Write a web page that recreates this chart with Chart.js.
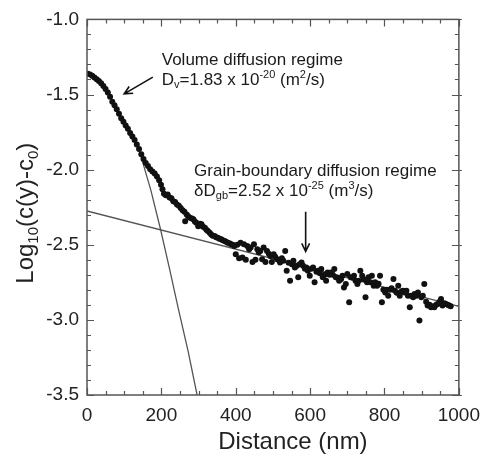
<!DOCTYPE html>
<html>
<head>
<meta charset="utf-8">
<script src="https://cdn.jsdelivr.net/npm/chart.js@4.4.0/dist/chart.umd.min.js"></script>
<style>
  html, body { margin: 0; padding: 0; background: #fff; }
</style>
</head>
<body>
<canvas id="chart-diffusion-profile" width="489" height="459"></canvas>
<script>
// measured profile, distance in nm
var distance = [
  2, 8, 14, 20, 26, 32, 38, 44, 50, 56, 62, 68, 74, 80, 86, 92, 98, 104, 110, 116,
  122, 128, 134, 140, 146, 152, 158, 164, 170, 176, 182, 188, 194, 199,
  203, 207, 212, 217, 222, 227, 232, 237, 242, 247, 252, 257, 262, 264, 268, 272,
  277, 282, 286, 290, 294, 299, 304, 308, 312, 317, 321, 325, 330, 334, 338, 343,
  347, 352, 356, 361, 365, 370, 374, 378, 383, 387, 392, 396, 400,
  404, 409, 413, 418, 422, 427, 431, 436, 440, 445, 449, 453, 458, 462, 466, 471,
  475, 480, 484, 489, 493, 497, 502, 506, 511, 515, 519, 524, 528, 533, 537, 542,
  546, 551, 555, 559, 564, 568, 572, 577, 581, 586, 590, 594, 599, 603, 608, 612,
  617, 621, 626, 630, 634, 639, 643, 647, 652, 656, 661, 665, 669, 674, 678, 683,
  687, 691, 696, 700, 705, 709, 714, 718, 722, 727, 731, 735, 740, 744, 749, 753,
  757, 762, 766, 771, 775, 780, 784, 788, 793, 797, 802, 806, 810, 815, 819, 824,
  828, 833, 837, 841, 846, 850, 854, 859, 863, 868, 872, 877, 881, 886, 890, 894,
  899, 903, 907, 912, 916, 921, 925, 930, 934, 939, 943, 948, 952, 956, 961, 965,
  970, 974, 978
];
var logConc = [
  -1.362, -1.367, -1.375, -1.386, -1.398, -1.410, -1.425, -1.443, -1.463, -1.487,
  -1.515, -1.548, -1.572, -1.598, -1.628, -1.658, -1.681, -1.706, -1.728, -1.756,
  -1.780, -1.802, -1.832, -1.862, -1.897, -1.930, -1.955, -1.975, -1.998, -2.012,
  -2.025, -2.045, -2.070, -2.100,
  -2.130, -2.160, -2.170, -2.165, -2.185, -2.190, -2.210, -2.215, -2.232, -2.240,
  -2.255, -2.270, -2.280, -2.343, -2.298, -2.310, -2.321, -2.325, -2.331, -2.345,
  -2.354, -2.376, -2.360, -2.364, -2.380, -2.387, -2.400, -2.409, -2.420, -2.431,
  -2.440, -2.442, -2.450, -2.453, -2.460, -2.464, -2.470, -2.475, -2.480, -2.486,
  -2.490, -2.497, -2.500, -2.508, -2.563,
  -2.500, -2.590, -2.486, -2.585, -2.497, -2.600, -2.508, -2.530, -2.519, -2.615,
  -2.497, -2.600, -2.530, -2.550, -2.541, -2.596, -2.519, -2.615, -2.541, -2.560,
  -2.574, -2.615, -2.563, -2.580, -2.596, -2.600, -2.618, -2.590, -2.607, -2.541,
  -2.673, -2.620, -2.739, -2.630, -2.607, -2.651, -2.640, -2.717, -2.630, -2.618,
  -2.640, -2.660, -2.651, -2.673, -2.706, -2.660, -2.651, -2.750, -2.680, -2.673,
  -2.690, -2.662, -2.717, -2.700, -2.739, -2.684, -2.700, -2.684, -2.700, -2.662,
  -2.717, -2.720, -2.739, -2.730, -2.706, -2.784, -2.761, -2.695, -2.883, -2.717,
  -2.720, -2.706, -2.740, -2.761, -2.740, -2.673, -2.706, -2.730, -2.850, -2.750,
  -2.717, -2.750, -2.706, -2.772, -2.750, -2.772, -2.760, -2.706, -2.883, -2.800,
  -2.817, -2.800, -2.839, -2.800, -2.790, -2.728, -2.806, -2.820, -2.772, -2.839,
  -2.810, -2.806, -2.817, -2.806, -2.840, -2.916, -2.839, -2.850, -2.828, -2.840,
  -2.817, -3.004, -2.850, -2.839, -2.761, -2.880, -2.905, -2.900, -2.916, -2.910,
  -2.916, -2.900, -2.894, -2.880, -2.861, -2.905, -2.890, -2.894, -2.900, -2.905,
  -2.910
];

// fitted lines
var volumeFitX = [138, 172, 198, 222, 246, 272, 296];
var volumeFitY = [-1.85, -2.14, -2.40, -2.66, -2.93, -3.21, -3.50];
var gbFitX = [0, 1000];
var gbFitY = [-2.275, -2.91];

var xTickValues = [0, 200, 400, 600, 800, 1000];
var yTickValues = [-3.5, -3.0, -2.5, -2.0, -1.5, -1.0];

function toPoints(xs, ys) {
  return xs.map(function (x, i) {
    return { x: x, y: ys[i] };
  });
}

var FONT = "'Liberation Sans', Arial, sans-serif";

// annotation anchors in data units
var notes = {
  volume: { x: 201, line1: -1.27, line2: -1.405, arrowFrom: [177, -1.384], arrowTo: [100, -1.496] },
  gb: { x: 288, line1: -2.012, line2: -2.144, arrowFrom: [588, -2.28], arrowTo: [588, -2.545] },
};

function drawRich(ctx, x, y, parts) {
  parts.forEach(function (p) {
    ctx.font = p[1] + "px " + FONT;
    ctx.fillText(p[0], x, y + (p[2] || 0));
    x += ctx.measureText(p[0]).width;
  });
  return x;
}

function richWidth(ctx, parts) {
  var w = 0;
  parts.forEach(function (p) {
    ctx.font = p[1] + "px " + FONT;
    w += ctx.measureText(p[0]).width;
  });
  return w;
}

function arrow(ctx, x1, y1, x2, y2) {
  var ang = Math.atan2(y2 - y1, x2 - x1);
  var head = 9;
  ctx.beginPath();
  ctx.moveTo(x1, y1);
  ctx.lineTo(x2, y2);
  ctx.moveTo(x2 - head * Math.cos(ang - 0.45), y2 - head * Math.sin(ang - 0.45));
  ctx.lineTo(x2, y2);
  ctx.lineTo(x2 - head * Math.cos(ang + 0.45), y2 - head * Math.sin(ang + 0.45));
  ctx.stroke();
}

var frameAndNotes = {
  id: "frameAndNotes",
  afterDraw: function (chart) {
    var ctx = chart.ctx;
    var a = chart.chartArea;
    var xs = chart.scales.x;
    var ys = chart.scales.y;
    ctx.save();

    // inward ticks on all four sides
    ctx.strokeStyle = "#555";
    ctx.lineWidth = 1.2;
    ctx.beginPath();
    for (var v = 0; v <= 1000; v += 50) {
      var px = Math.round(xs.getPixelForValue(v)) + 0.5;
      var len = v % 200 === 0 ? 7 : 4;
      ctx.moveTo(px, a.bottom);
      ctx.lineTo(px, a.bottom - len);
      ctx.moveTo(px, a.top);
      ctx.lineTo(px, a.top + len);
    }
    for (var i = 0; i <= 25; i++) {
      var py = Math.round(ys.getPixelForValue(-3.5 + i * 0.1)) + 0.5;
      var l2 = i % 5 === 0 ? 7 : 4;
      ctx.moveTo(a.left, py);
      ctx.lineTo(a.left + l2, py);
      ctx.moveTo(a.right + (i % 5 === 0 ? 3 : 0), py);
      ctx.lineTo(a.right - l2, py);
    }
    ctx.stroke();

    ctx.lineWidth = 1.5;
    ctx.strokeRect(a.left, a.top, a.right - a.left, a.bottom - a.top);

    // axis titles
    ctx.fillStyle = "#222";
    ctx.textBaseline = "alphabetic";
    ctx.textAlign = "center";
    ctx.font = "24px " + FONT;
    ctx.fillText("Distance (nm)", (a.left + a.right) / 2 + 20, 449);

    ctx.textAlign = "left";
    var yTitle = [["Log", 24], ["10", 15, 5], ["(c(y)-c", 24], ["0", 15, 5], [")", 24]];
    var tw = richWidth(ctx, yTitle);
    ctx.save();
    ctx.translate(33, (a.top + a.bottom) / 2 + 6);
    ctx.rotate(-Math.PI / 2);
    drawRich(ctx, -tw / 2, 0, yTitle);
    ctx.restore();

    // annotations
    ctx.fillStyle = "#1a1a1a";
    ctx.textBaseline = "middle";
    var vx = xs.getPixelForValue(notes.volume.x);
    drawRich(ctx, vx, ys.getPixelForValue(notes.volume.line1), [["Volume diffusion regime", 17]]);
    drawRich(ctx, vx, ys.getPixelForValue(notes.volume.line2), [
      ["D", 17], ["v", 11, 5], ["=1.83 x 10", 17], ["-20", 11, -5], [" (m", 17], ["2", 11, -5], ["/s)", 17],
    ]);
    var gx = xs.getPixelForValue(notes.gb.x);
    drawRich(ctx, gx, ys.getPixelForValue(notes.gb.line1), [["Grain-boundary diffusion regime", 17]]);
    drawRich(ctx, gx, ys.getPixelForValue(notes.gb.line2), [
      ["\u03B4D", 17], ["gb", 11, 5], ["=2.52 x 10", 17], ["-25", 11, -5], [" (m", 17], ["3", 11, -5], ["/s)", 17],
    ]);

    ctx.strokeStyle = "#111";
    ctx.lineWidth = 1.6;
    [notes.volume, notes.gb].forEach(function (n) {
      arrow(
        ctx,
        xs.getPixelForValue(n.arrowFrom[0]), ys.getPixelForValue(n.arrowFrom[1]),
        xs.getPixelForValue(n.arrowTo[0]), ys.getPixelForValue(n.arrowTo[1])
      );
    });

    ctx.restore();
  },
};

var ctx = document.getElementById("chart-diffusion-profile").getContext("2d");

new Chart(ctx, {
  type: "scatter",
  data: {
    datasets: [
      {
        label: "profile",
        data: toPoints(distance, logConc),
        pointRadius: 3,
        pointHoverRadius: 3,
        pointBackgroundColor: "#111",
        pointBorderWidth: 0,
        showLine: false,
        order: 0,
      },
      {
        label: "volume fit",
        data: toPoints(volumeFitX, volumeFitY),
        showLine: true,
        borderColor: "#555",
        borderWidth: 1.3,
        pointRadius: 0,
        tension: 0,
        order: 1,
      },
      {
        label: "gb fit",
        data: toPoints(gbFitX, gbFitY),
        showLine: true,
        borderColor: "#555",
        borderWidth: 1.3,
        pointRadius: 0,
        order: 2,
      },
    ],
  },
  options: {
    responsive: false,
    animation: false,
    devicePixelRatio: 1,
    layout: {
      padding: { top: 17, right: 24, left: 0, bottom: 0 },
    },
    plugins: {
      legend: { display: false },
      tooltip: { enabled: false },
    },
    scales: {
      x: {
        type: "linear",
        min: 0,
        max: 1000,
        afterBuildTicks: function (scale) {
          scale.ticks = xTickValues.map(function (v) { return { value: v }; });
        },
        afterFit: function (scale) {
          scale.height = 64;
        },
        grid: { display: false, drawTicks: false },
        border: { display: false },
        ticks: {
          padding: 9,
          maxRotation: 0,
          color: "#222",
          font: { size: 19, family: FONT },
          callback: function (value) {
            return String(value);
          },
        },
      },
      y: {
        type: "linear",
        min: -3.5,
        max: -1.0,
        afterBuildTicks: function (scale) {
          scale.ticks = yTickValues.map(function (v) { return { value: v }; });
        },
        afterFit: function (scale) {
          scale.width = 87;
        },
        grid: { display: false, drawTicks: false },
        border: { display: false },
        ticks: {
          padding: 8,
          color: "#222",
          font: { size: 19, family: FONT },
          callback: function (value) {
            return value.toFixed(1);
          },
        },
      },
    },
  },
  plugins: [frameAndNotes],
});
</script>
</body>
</html>
